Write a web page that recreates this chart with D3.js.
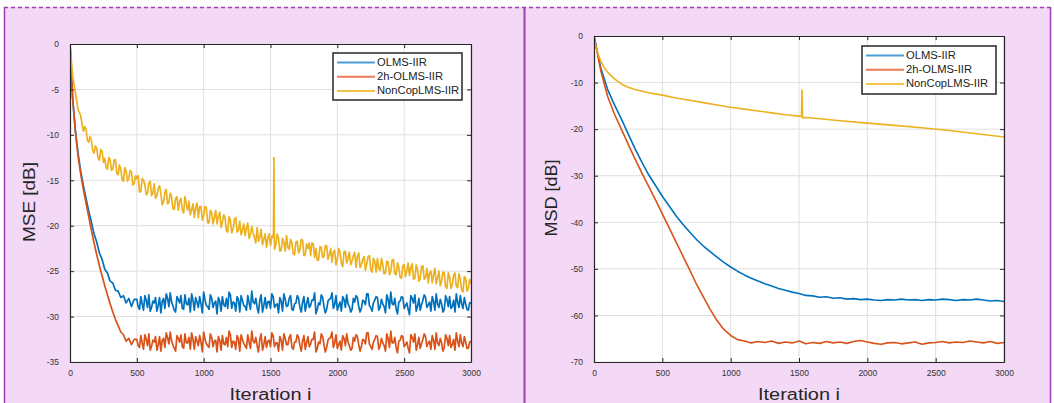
<!DOCTYPE html>
<html><head><meta charset="utf-8">
<script src="https://cdn.jsdelivr.net/npm/d3@7"></script>
<style>
html,body{margin:0;padding:0;background:#fff;}
svg{display:block;font-family:"Liberation Sans", Arial, sans-serif;}
</style></head><body>
<svg id="c" width="1054" height="403"></svg>
<script>
// ---------------- DATA ----------------
const iterTicks = [0, 500, 1000, 1500, 2000, 2500, 3000];
const mseTicks = [0, -5, -10, -15, -20, -25, -30, -35];
const msdTicks = [0, -10, -20, -30, -40, -50, -60, -70];
const seriesNames = ["OLMS-IIR", "2h-OLMS-IIR", "NonCopLMS-IIR"];
const seriesColors = ["#0072BD", "#D95319", "#EDB120"];
const legendColors = ["#4c9cd6", "#ee7a58", "#f3c146"];

// Left panel (MSE): main samples every 20 iterations (0..3000)
const mseStep = 20;
const mseOlms = [
  0, -6.0, -9.5, -12.0, -14.0, -15.6, -17.0, -18.4, -19.6, -20.9,
  -21.8, -23.0, -23.7, -24.8, -25.2, -26.1, -26.3, -27.1, -27.2, -27.9,
  -27.7, -28.5, -28.0, -28.9, -28.1,
  -28.1, -29.2, -28.6, -27.7, -29.0, -29.4, -28.3, -27.9, -28.8, -29.6,
  -28.0, -27.5, -28.9, -28.4, -29.3, -27.8, -28.5, -29.1, -27.6, -28.7,
  -29.5, -28.2, -27.9, -29.0, -28.6, -27.3, -28.8, -29.2, -28.0, -28.5,
  -29.7, -28.3, -27.8, -28.9, -29.1, -27.6, -28.4, -29.4, -28.1, -27.7,
  -28.8, -29.3, -28.5, -27.2, -28.6, -29.0, -28.2, -29.5, -27.9, -28.4,
  -29.1, -27.8, -28.7, -29.6, -28.3, -27.5, -28.9, -28.0, -29.2, -28.6,
  -27.7, -29.0, -28.4, -29.4, -27.9, -28.8, -28.2, -29.7, -28.5, -27.6,
  -28.9, -29.2, -28.1, -27.4, -28.7, -29.3, -28.4, -27.8, -29.0, -28.6,
  -29.5, -28.0, -27.7, -28.9, -29.1, -28.3, -27.5, -28.8, -29.4, -28.2,
  -27.9, -29.0, -28.6, -29.6, -28.1, -27.3, -28.7, -29.2, -28.4, -27.8,
  -29.1, -28.5, -29.8, -28.0, -27.6, -28.9, -29.3, -28.2, -27.9, -28.7,
  -29.4, -28.3, -27.5, -29.0, -28.6, -29.2, -28.1, -27.8, -28.9, -29.5,
  -28.4, -27.7, -29.1, -28.6, -29.3, -28.5
];
const mse2h = [
  0, -6.0, -9.6, -12.3, -14.3, -16.0, -17.5, -19.0, -20.5, -21.9,
  -23.2, -24.4, -25.5, -26.6, -27.6, -28.6, -29.5, -30.3, -31.0, -31.7,
  -32.0, -32.7, -32.4, -33.1, -32.5,
  -32.5, -33.4, -32.9, -32.0, -33.2, -33.7, -32.6, -32.2, -33.1, -33.8,
  -32.4, -31.8, -33.0, -32.7, -33.5, -32.1, -32.8, -33.3, -31.9, -32.9,
  -33.6, -32.5, -32.2, -33.2, -32.8, -31.7, -33.0, -33.4, -32.3, -32.7,
  -33.9, -32.6, -32.1, -33.1, -33.3, -32.0, -32.7, -33.6, -32.4, -32.0,
  -33.0, -33.5, -32.8, -31.6, -32.9, -33.2, -32.5, -33.7, -32.2, -32.7,
  -33.3, -32.1, -32.9, -33.8, -32.6, -31.9, -33.1, -32.3, -33.4, -32.8,
  -32.0, -33.2, -32.7, -33.6, -32.2, -33.0, -32.5, -33.9, -32.8, -31.9,
  -33.1, -33.4, -32.4, -31.7, -32.9, -33.5, -32.7, -32.1, -33.2, -32.8,
  -33.7, -32.3, -32.0, -33.1, -33.3, -32.6, -31.8, -33.0, -33.6, -32.5,
  -32.2, -33.2, -32.9, -33.8, -32.4, -31.6, -32.9, -33.4, -32.7, -32.1,
  -33.3, -32.8, -34.0, -32.3, -31.9, -33.1, -33.5, -32.5, -32.2, -32.9,
  -33.6, -32.6, -31.8, -33.2, -32.9, -33.4, -32.4, -32.1, -33.1, -33.7,
  -32.7, -32.0, -33.3, -32.8, -33.5, -32.7
];
const mseNonCop = [
  0, -3.6, -5.3, -7.2, -7.9, -9.6, -9.4, -10.8, -10.6, -12.0,
  -11.5, -12.8, -11.8, -12.6, -13.8, -12.7, -13.8, -12.7, -14.4, -13.8,
  -15.1, -14.0, -14.8, -14.1, -15.4, -14.8, -16.3, -14.8, -15.5, -16.4,
  -15.1, -16.4, -17.0, -15.9, -16.5, -17.4, -16.0, -17.4, -16.8, -18.2,
  -16.8, -17.3, -18.2, -16.8, -18.3, -18.8, -17.6, -18.1, -19.1, -17.9,
  -18.9, -18.0, -19.7, -18.6, -19.1, -19.8, -18.5, -19.6, -19.1, -20.7,
  -19.4, -20.4, -19.1, -20.5, -21.0, -19.8, -20.3, -21.4, -20.1, -21.3,
  -20.2, -21.3, -22.1, -20.9, -21.4, -22.2, -21.0, -22.1, -21.4, -22.7,
  -21.8, -21.1, -22.6, -21.9, -23.2, -21.7, -22.6, -21.6, -23.2, -22.5,
  -23.3, -22.0, -22.5, -23.8, -22.4, -23.4, -22.2, -23.2, -24.0, -22.7,
  -23.7, -22.9, -24.5, -22.8, -23.6, -24.3, -23.3, -24.6, -23.0, -24.3,
  -23.4, -24.2, -23.3, -25.1, -23.9, -23.6, -24.9, -24.3, -25.2, -24.0,
  -25.0, -23.7, -25.4, -24.6, -25.8, -24.3, -24.9, -25.5, -24.2, -25.8,
  -24.8, -25.8, -24.4, -25.7, -26.3, -25.0, -25.4, -26.4, -25.0, -26.1,
  -25.2, -26.9, -25.6, -26.5, -25.2, -26.8, -25.9, -27.3, -25.8, -26.9,
  -26.4
];
// in-between samples at iterations 510, 530, ..., 2990
const mseMidStart = 510;
const mseOlmsMid = [
  -28.9, -27.8, -29.3, -28.2, -27.6, -29.0, -28.5, -29.4, -27.9, -28.3,
  -29.1, -28.0, -27.4, -28.8, -29.5, -28.1, -27.7, -29.2, -28.6, -28.0,
  -27.5, -29.3, -28.4, -27.8, -29.6, -28.2, -28.9, -27.6, -29.0, -28.3,
  -27.9, -29.4, -28.7, -28.0, -27.3, -29.1, -28.5, -27.8, -29.5, -28.2,
  -28.9, -27.7, -29.2, -28.4, -28.0, -29.6, -27.6, -28.8, -29.1, -28.3,
  -27.5, -29.0, -28.6, -27.9, -29.4, -28.1, -28.8, -27.7, -29.3, -28.5,
  -28.0, -29.5, -27.8, -28.6, -29.0, -28.2, -27.4, -29.2, -28.7, -27.9,
  -29.6, -28.3, -28.0, -29.1, -27.7, -28.8, -29.4, -28.1, -27.6, -28.9,
  -29.2, -28.4, -27.9, -29.5, -28.2, -28.7, -27.5, -29.0, -28.5, -27.8,
  -29.3, -28.1, -28.9, -27.6, -29.1, -28.6, -28.0, -29.7, -28.3, -27.9,
  -28.8, -29.2, -27.7, -28.5, -29.4, -28.0, -28.7, -27.6, -29.0, -28.4,
  -27.8, -29.3, -28.6, -28.1, -29.5, -27.7, -28.9, -29.1, -28.2, -27.5,
  -29.0, -28.6, -27.9, -29.2, -28.5
];
const mse2hMid = [
  -33.2, -32.1, -33.6, -32.5, -31.9, -33.3, -32.8, -33.7, -32.2, -32.6,
  -33.4, -32.3, -31.7, -33.1, -33.8, -32.4, -32.0, -33.5, -32.9, -32.3,
  -31.8, -33.6, -32.7, -32.1, -33.9, -32.5, -33.2, -31.9, -33.3, -32.6,
  -32.2, -33.7, -33.0, -32.3, -31.6, -33.4, -32.8, -32.1, -33.8, -32.5,
  -33.2, -32.0, -33.5, -32.7, -32.3, -33.9, -31.9, -33.1, -33.4, -32.6,
  -31.8, -33.3, -32.9, -32.2, -33.7, -32.4, -33.1, -32.0, -33.6, -32.8,
  -32.3, -33.8, -32.1, -32.9, -33.3, -32.5, -31.7, -33.5, -33.0, -32.2,
  -33.9, -32.6, -32.3, -33.4, -32.0, -33.1, -33.7, -32.4, -31.9, -33.2,
  -33.5, -32.7, -32.2, -33.8, -32.5, -33.0, -31.8, -33.3, -32.8, -32.1,
  -33.6, -32.4, -33.2, -31.9, -33.4, -32.9, -32.3, -34.0, -32.6, -32.2,
  -33.1, -33.5, -32.0, -32.8, -33.7, -32.3, -33.0, -31.9, -33.3, -32.7,
  -32.1, -33.6, -32.9, -32.4, -33.8, -32.0, -33.2, -33.4, -32.5, -31.8,
  -33.3, -32.9, -32.2, -33.5, -32.8
];
const mseNonCopMid = [
  -14.5, -16.2, -15.0, -16.6, -15.3,
  -16.7, -15.4, -16.7, -15.6, -17.7, -16.3, -17.6, -16.4, -18.1, -17.0,
  -18.3, -17.0, -18.6, -17.6, -17.3, -18.3, -19.1, -17.5, -17.9, -19.4,
  -17.9, -19.7, -18.3, -19.8, -18.3, -19.0, -20.2, -18.8, -20.6, -19.0,
  -20.8, -19.3, -20.7, -19.5, -20.5, -21.1, -19.7, -20.9, -20.8, -21.9,
  -21.7, -20.4, -21.5, -22.4, -20.9, -21.2, -22.6, -20.9, -22.8, -21.4,
  -22.8, -22.4, -21.5, -23.1, -21.8, -23.0, -21.5, -23.3, -22.0, -21.9,
  -21.9, -23.5, -23.8, -22.3, -23.5, -22.2, -23.7, -22.5, -22.9, -24.3,
  -22.5, -24.1, -22.9, -24.1, -22.9, -23.9, -22.9, -23.4, -24.6, -23.7,
  -24.9, -23.4, -24.8, -23.6, -25.1, -24.7, -23.6, -25.3, -23.9, -25.4,
  -23.8, -25.3, -24.1, -25.7, -24.4, -25.6, -24.1, -24.6, -25.9, -24.3,
  -26.1, -24.5, -25.9, -24.7, -25.2, -26.3, -24.7, -25.8, -26.6, -25.1,
  -26.7, -25.2, -26.9, -25.4, -26.7, -25.3, -27.1, -25.6, -27.2, -25.9
];
// in-between NonCop samples at iterations 110, 130, ..., 490
const mseEarlyMidStart = 110;
const mseNonCopEarlyMid = [
  -9.1, -10.6, -10.2, -11.7, -11.2, -12.6, -11.6, -13.0, -13.6, -12.5,
  -13.9, -12.8, -14.2, -13.3, -14.9, -13.6, -15.1, -13.9, -15.5, -14.5
];
// the short glitch of the NonCop curve near iteration 1526
const mseSpikeIter = [1522, 1526, 1529];
const mseSpikeVal = [-21.3, -12.5, -21.8];

// Right panel (MSD), sampled every 50 iterations
const msdStep = 50;
const msdOlms = [
  0, -6.9, -11.5, -14.8, -17.8, -21.0, -24.2, -27.1, -29.8, -32.1,
  -34.4, -36.5, -38.6, -40.4, -42.1, -43.7, -45.1, -46.3, -47.5, -48.6,
  -49.6, -50.5, -51.3, -52.0, -52.6, -53.2, -53.7, -54.2, -54.6, -55.0,
  -55.3, -55.7, -55.8, -56.1, -56.0, -56.3, -56.2, -56.5, -56.4, -56.6,
  -56.5, -56.7, -56.8, -56.6, -56.7, -56.5, -56.7, -56.6, -56.8, -56.6,
  -56.7, -56.5, -56.6, -56.8, -56.6, -56.7, -56.5, -56.7, -56.9, -56.8,
  -57.0
];
const msd2h = [
  0, -7.5, -13.0, -16.8, -20.0, -23.2, -26.4, -29.4, -32.3, -35.2,
  -38.2, -41.2, -44.2, -47.2, -50.2, -53.3, -56.0, -58.7, -61.1, -63.0,
  -64.3, -65.2, -65.5, -65.9, -65.6, -65.8, -65.5, -66.0, -65.7, -65.9,
  -65.5, -66.1, -65.8, -66.0, -65.6, -65.9, -65.7, -66.0, -65.6, -65.4,
  -65.7, -66.0, -66.2, -65.9, -65.8, -66.1, -65.9, -65.7, -66.2, -65.9,
  -65.8, -65.6, -65.9, -65.7, -65.8, -65.5, -65.7, -65.9, -65.6, -66.0,
  -65.8
];
const msdNonCopIter = [0, 10, 25, 50, 75, 100, 150, 200, 250, 300, 400, 500, 600, 700, 800, 900, 1000,
  1100, 1200, 1300, 1400, 1500, 1518, 1522, 1526, 1560, 1600, 1800, 2000, 2200, 2400, 2600, 2800, 3000];
const msdNonCop = [0, -2.0, -3.5, -5.4, -6.8, -7.8, -9.2, -10.3, -11.0, -11.5, -12.2, -12.7, -13.3, -13.8, -14.3, -14.8, -15.3,
  -15.7, -16.1, -16.5, -16.9, -17.2, -17.3, -11.6, -17.6, -17.5, -17.6, -18.2, -18.7, -19.2, -19.7, -20.3, -21.0, -21.7];

// ---------------- BUILD ----------------
const regular = (vals, step, start = 0) => vals.map((v, i) => [start + i * step, v]);
const pairs = (its, vals) => its.map((it, i) => [it, vals[i]]);
const merged = (...parts) => [].concat(...parts).sort((p, q) => p[0] - q[0]);

const svg = d3.select("#c");
const W = 1054, H = 403;
const pink = "#f3d9f5", purple = "#a03cb6";
svg.append("rect").attr("width", W).attr("height", H).attr("fill", "#ffffff");
svg.append("rect").attr("x", 4).attr("y", 7).attr("width", 520).attr("height", H - 7).attr("fill", pink);
svg.append("rect").attr("x", 525).attr("y", 7).attr("width", 525).attr("height", H - 7).attr("fill", pink);
svg.append("line").attr("x1", 4).attr("x2", 1050).attr("y1", 7.5).attr("y2", 7.5)
  .attr("stroke", purple).attr("stroke-width", 1.3).attr("stroke-dasharray", "4,3");
[4.5, 524.5, 1050.5].forEach((xx, k) => svg.append("line").attr("x1", xx).attr("x2", xx).attr("y1", 7).attr("y2", H)
  .attr("stroke", purple).attr("stroke-width", k === 1 ? 2 : 1.5));

const panels = [
  { x0: 70, x1: 471, y0: 44, y1: 362, yDomain: [-35, 0], yTicks: mseTicks, ylabel: "MSE [dB]", ylabelX: 35, ylabelLen: 80,
    legend: { x: 333, y: 53, w: 129, h: 47 }, lw: 1.7,
    series: [
      merged(regular(mseOlms, mseStep), regular(mseOlmsMid, mseStep, mseMidStart)),
      merged(regular(mse2h, mseStep), regular(mse2hMid, mseStep, mseMidStart)),
      merged(regular(mseNonCop, mseStep), regular(mseNonCopMid, mseStep, mseMidStart),
             regular(mseNonCopEarlyMid, mseStep, mseEarlyMidStart), pairs(mseSpikeIter, mseSpikeVal))] },
  { x0: 594, x1: 1004, y0: 36, y1: 362, yDomain: [-70, 0], yTicks: msdTicks, ylabel: "MSD [dB]", ylabelX: 557, ylabelLen: 77,
    legend: { x: 862, y: 46, w: 134, h: 48 }, lw: 1.6,
    series: [regular(msdOlms, msdStep), regular(msd2h, msdStep), pairs(msdNonCopIter, msdNonCop)] }
];

panels.forEach((p, pi) => {
  const x = d3.scaleLinear().domain([0, 3000]).range([p.x0, p.x1]);
  const y = d3.scaleLinear().domain(p.yDomain).range([p.y1, p.y0]);
  const g = svg.append("g");
  g.append("rect").attr("x", p.x0).attr("y", p.y0).attr("width", p.x1 - p.x0).attr("height", p.y1 - p.y0).attr("fill", "#fff");
  // grid
  g.selectAll(".gx").data(iterTicks).join("line").attr("x1", d => x(d)).attr("x2", d => x(d))
    .attr("y1", p.y0).attr("y2", p.y1).attr("stroke", "#dedede").attr("stroke-width", 1);
  g.selectAll(".gy").data(p.yTicks).join("line").attr("y1", d => y(d)).attr("y2", d => y(d))
    .attr("x1", p.x0).attr("x2", p.x1).attr("stroke", "#dedede").attr("stroke-width", 1);
  // clip
  const cid = "clip" + pi;
  svg.append("clipPath").attr("id", cid).append("rect").attr("x", p.x0).attr("y", p.y0 - 1)
    .attr("width", p.x1 - p.x0).attr("height", p.y1 - p.y0 + 1);
  const line = d3.line().x(d => x(d[0])).y(d => y(d[1]));
  const lg = g.append("g").attr("clip-path", `url(#${cid})`);
  p.series.forEach((s, si) => {
    lg.append("path").datum(s).attr("d", line).attr("fill", "none")
      .attr("stroke", seriesColors[si]).attr("stroke-width", p.lw).attr("stroke-linejoin", "round");
  });
  // axes
  const axCol = "#262626";
  const style = sel => {
    sel.attr("font-family", '"Liberation Sans", Arial, sans-serif').attr("font-size", 8.5);
    sel.select(".domain").attr("stroke", axCol).attr("stroke-width", 1.2);
    sel.selectAll(".tick line").attr("stroke", axCol);
    sel.selectAll(".tick text").attr("fill", "#333");
  };
  g.append("g").attr("transform", `translate(0,${p.y1})`)
    .call(d3.axisBottom(x).tickValues(iterTicks).tickSize(-4).tickSizeOuter(0).tickPadding(8).tickFormat(d => String(d))).call(style);
  g.append("g").attr("transform", `translate(0,${p.y0})`)
    .call(d3.axisTop(x).tickValues(iterTicks).tickSize(-4).tickSizeOuter(0).tickFormat("")).call(style);
  g.append("g").attr("transform", `translate(${p.x0},0)`)
    .call(d3.axisLeft(y).tickValues(p.yTicks).tickSize(-4).tickSizeOuter(0).tickPadding(11).tickFormat(d => String(d))).call(style);
  g.append("g").attr("transform", `translate(${p.x1},0)`)
    .call(d3.axisRight(y).tickValues(p.yTicks).tickSize(-4).tickSizeOuter(0).tickFormat("")).call(style);
  // axis labels
  g.append("text").attr("x", (p.x0 + p.x1) / 2).attr("y", 400).attr("text-anchor", "middle")
    .attr("font-size", 16).attr("fill", "#262626").attr("textLength", 82).attr("lengthAdjust", "spacingAndGlyphs")
    .text("Iteration i");
  g.append("text").attr("transform", `translate(${p.ylabelX},${(p.y0 + p.y1) / 2 - 1}) rotate(-90)`)
    .attr("text-anchor", "middle").attr("font-size", 16).attr("fill", "#262626")
    .attr("textLength", p.ylabelLen).attr("lengthAdjust", "spacingAndGlyphs").text(p.ylabel);
  // legend
  const L = p.legend;
  const leg = g.append("g");
  leg.append("rect").attr("x", L.x).attr("y", L.y).attr("width", L.w).attr("height", L.h)
    .attr("fill", "#fff").attr("stroke", "#333").attr("stroke-width", 1.6);
  seriesNames.forEach((nm, si) => {
    const ry = L.y + 9.5 + si * 14.2;
    leg.append("line").attr("x1", L.x + 4).attr("x2", L.x + 42).attr("y1", ry).attr("y2", ry)
      .attr("stroke", legendColors[si]).attr("stroke-width", 2);
    const t = leg.append("text").attr("x", L.x + 44).attr("y", ry).attr("dy", "0.35em")
      .attr("font-size", 10).attr("fill", "#222").text(nm);
    const len = t.node().getComputedTextLength();
    t.attr("textLength", len * 1.12).attr("lengthAdjust", "spacingAndGlyphs");
  });
});
</script>
</body></html>
